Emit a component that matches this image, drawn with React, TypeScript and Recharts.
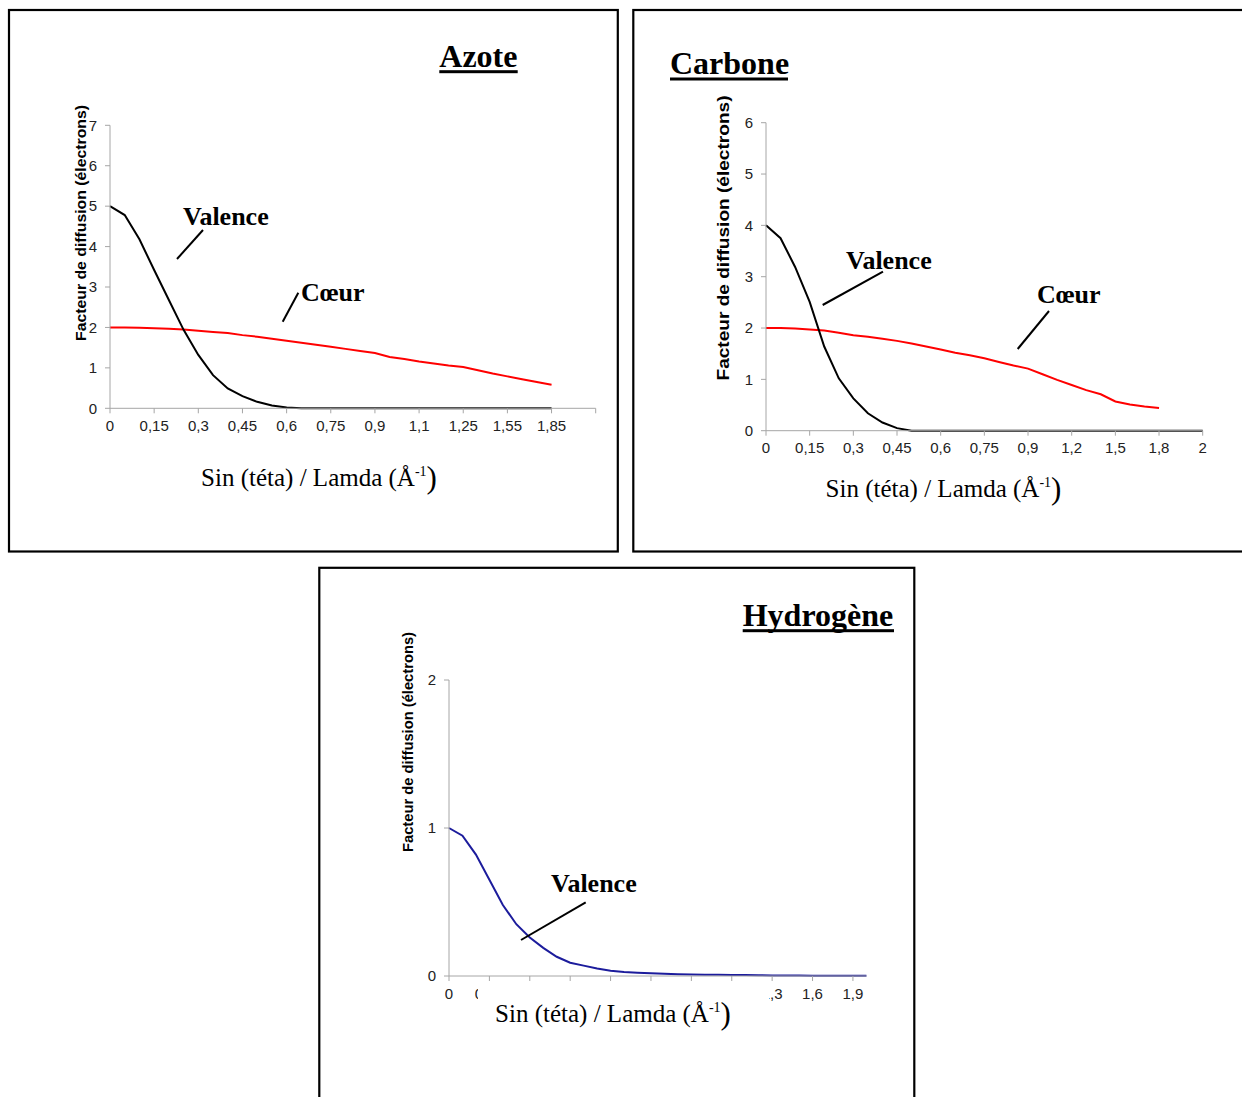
import { LineChart, Line, XAxis, YAxis } from 'recharts';

// sin(theta)/lambda categories (one point per category, labels every 3rd)
const AZOTE_X = [
  0, 0.05, 0.1, 0.15, 0.2, 0.25, 0.3, 0.35, 0.4, 0.45, 0.5, 0.55, 0.6, 0.65, 0.7, 0.75, 0.8, 0.85, 0.9,
  0.95, 1.0, 1.1, 1.15, 1.2, 1.25, 1.35, 1.45, 1.55, 1.65, 1.75, 1.85,
];
const AZOTE_VALENCE = [
  5.0, 4.78, 4.18, 3.42, 2.68, 1.94, 1.32, 0.82, 0.49, 0.3, 0.16, 0.07, 0.02, 0, 0, 0, 0, 0, 0,
  0, 0, 0, 0, 0, 0, 0, 0, 0, 0, 0, 0,
];
const AZOTE_COEUR = [
  2.0, 2.0, 1.99, 1.98, 1.97, 1.95, 1.92, 1.89, 1.86, 1.81, 1.77, 1.72, 1.67, 1.62, 1.57, 1.52, 1.47, 1.42, 1.37,
  1.27, 1.22, 1.16, 1.11, 1.06, 1.02, 0.94, 0.86, 0.79, 0.72, 0.65, 0.58,
];

const CARBONE_X = [
  0, 0.05, 0.1, 0.15, 0.2, 0.25, 0.3, 0.35, 0.4, 0.45, 0.5, 0.55, 0.6, 0.65, 0.7, 0.75, 0.8, 0.85, 0.9,
  1.0, 1.1, 1.2, 1.3, 1.4, 1.5, 1.6, 1.7, 1.8, 1.9, 1.95, 2,
];
const CARBONE_VALENCE = [
  4.0, 3.75, 3.19, 2.51, 1.64, 1.02, 0.63, 0.34, 0.16, 0.05, 0, 0, 0, 0, 0, 0, 0, 0, 0,
  0, 0, 0, 0, 0, 0, 0, 0, 0, 0, 0, 0,
];
const CARBONE_COEUR = [
  2.0, 2.0, 1.99, 1.97, 1.95, 1.91, 1.86, 1.83, 1.79, 1.75, 1.7, 1.64, 1.58, 1.52, 1.47, 1.41, 1.34, 1.27, 1.21,
  1.1, 0.99, 0.89, 0.79, 0.71, 0.57, 0.51, 0.47, 0.44,
];

const HYDROGENE_X = [
  0, 0.05, 0.1, 0.15, 0.2, 0.25, 0.3, 0.35, 0.4, 0.45, 0.5, 0.55, 0.6, 0.65, 0.7, 0.75, 0.8, 0.85, 0.9,
  0.95, 1.0, 1.05, 1.1, 1.2, 1.3, 1.4, 1.5, 1.6, 1.7, 1.8, 1.9, 2.0,
];
const HYDROGENE_VALENCE = [
  1.0, 0.948, 0.82, 0.65, 0.48, 0.35, 0.26, 0.19, 0.13, 0.09, 0.07, 0.05, 0.036, 0.027, 0.022, 0.018,
  0.015, 0.012, 0.01, 0.009, 0.008, 0.007, 0.006, 0.005, 0.004, 0.003, 0.003, 0.002, 0.002, 0.001, 0.001, 0.001,
];
// the axis title box hides these hydrogen tick labels in the original
const HYDROGENE_HIDDEN = [6, 9, 12, 15, 18, 21];

const Y_LABEL = 'Facteur de diffusion (électrons)';
const X_LABEL = 'Sin (téta) / Lamda (Å';

const SERIF = '"Liberation Serif", "Times New Roman", serif';
const SANS = '"Liberation Sans", Arial, sans-serif';
const AXIS = '#a6a6a6';

const fmt = (v: number) => String(v).replace('.', ',');

type Series = { key: string; values: number[]; color: string };

interface FactorChartProps {
  left: number;
  top: number;
  width: number;
  height: number;
  margin: { top: number; right: number; bottom: number; left: number };
  x: number[];
  xMax: number;
  yMax: number;
  series: Series[];
  hidden?: number[];
}

function FactorChart({ left, top, width, height, margin, x, xMax, yMax, series, hidden = [] }: FactorChartProps) {
  const rows = x.map((_, i) => {
    const row: Record<string, number | null> = { i };
    series.forEach((s) => {
      row[s.key] = i < s.values.length ? s.values[i] : null;
    });
    return row;
  });
  const xTicks: number[] = [];
  for (let t = 0; t <= xMax; t += 3) xTicks.push(t);
  const yTicks: number[] = [];
  for (let t = 0; t <= yMax; t++) yTicks.push(t);
  const tick = { fontSize: 15, fill: '#222', fontFamily: SANS };

  return (
    <div style={{ position: 'absolute', left, top }}>
      <LineChart width={width} height={height} data={rows} margin={margin}>
        <XAxis
          type="number"
          dataKey="i"
          domain={[0, xMax]}
          ticks={xTicks}
          interval={0}
          tickFormatter={(v: number) => (v < x.length && !hidden.includes(v) ? fmt(x[v]) : '')}
          tick={tick}
          tickSize={5}
          tickMargin={7}
          height={30}
          stroke={AXIS}
          tickLine={{ stroke: AXIS }}
        />
        <YAxis
          type="number"
          domain={[0, yMax]}
          ticks={yTicks}
          interval={0}
          tick={tick}
          tickSize={5}
          tickMargin={8}
          width={50}
          stroke={AXIS}
          tickLine={{ stroke: AXIS }}
        />
        {series.map((s) => (
          <Line
            key={s.key}
            type="linear"
            dataKey={s.key}
            stroke={s.color}
            strokeWidth={2}
            dot={false}
            isAnimationActive={false}
          />
        ))}
      </LineChart>
    </div>
  );
}

function XTitle({ x, y }: { x: number; y: number }) {
  return (
    <text x={x} y={y} fontFamily={SERIF} fontSize={25} fill="#000" textAnchor="middle">
      {X_LABEL}
      <tspan fontSize={14} dy={-10}>-1</tspan>
      <tspan fontSize={31} dy={12}>)</tspan>
    </text>
  );
}

function YTitle({ x, y, size, length }: { x: number; y: number; size: number; length: number }) {
  return (
    <text
      x={x}
      y={y}
      transform={`rotate(-90 ${x} ${y})`}
      fontFamily={SANS}
      fontWeight="bold"
      fontSize={size}
      fill="#000"
      textAnchor="middle"
      dominantBaseline="central"
      textLength={length}
      lengthAdjust="spacingAndGlyphs"
    >
      {Y_LABEL}
    </text>
  );
}

function Title({ x, y, w, text }: { x: number; y: number; w: number; text: string }) {
  return (
    <g>
      <text x={x} y={y} fontFamily={SERIF} fontWeight="bold" fontSize={32} fill="#000">
        {text}
      </text>
      <rect x={x} y={y + 3.5} width={w} height={3} fill="#000" />
    </g>
  );
}

function Note({ x, y, text, line }: { x: number; y: number; text: string; line: number[] }) {
  return (
    <g>
      <text x={x} y={y} fontFamily={SERIF} fontWeight="bold" fontSize={26} fill="#000">
        {text}
      </text>
      <line x1={line[0]} y1={line[1]} x2={line[2]} y2={line[3]} stroke="#000" strokeWidth={2} />
    </g>
  );
}

export default function App() {
  return (
    <div
      style={{
        position: 'absolute',
        left: 0,
        top: 0,
        width: 1242,
        height: 1097,
        overflow: 'hidden',
        background: '#fff',
      }}
    >
      <FactorChart
        left={60}
        top={115}
        width={550}
        height={330}
        margin={{ top: 10.3, right: 14.3, bottom: 6.7, left: 0 }}
        x={AZOTE_X}
        xMax={33}
        yMax={7}
        series={[
          { key: 'coeur', values: AZOTE_COEUR, color: '#ff0000' },
          { key: 'valence', values: AZOTE_VALENCE, color: '#000000' },
        ]}
      />
      <FactorChart
        left={716}
        top={112}
        width={500}
        height={350}
        margin={{ top: 10.7, right: 13.3, bottom: 1.3, left: 0 }}
        x={CARBONE_X}
        xMax={30}
        yMax={6}
        series={[
          { key: 'coeur', values: CARBONE_COEUR, color: '#ff0000' },
          { key: 'valence', values: CARBONE_VALENCE, color: '#000000' },
        ]}
      />
      <FactorChart
        left={399.3}
        top={670}
        width={480}
        height={340}
        margin={{ top: 10, right: 12.6, bottom: 4, left: 0 }}
        x={HYDROGENE_X}
        xMax={31}
        yMax={2}
        hidden={HYDROGENE_HIDDEN}
        series={[{ key: 'valence', values: HYDROGENE_VALENCE, color: '#1c1c9c' }]}
      />

      <svg
        width={1242}
        height={1097}
        style={{ position: 'absolute', left: 0, top: 0, pointerEvents: 'none' }}
      >
        <g fill="none" stroke="#000" strokeWidth={2.2}>
          <rect x={9} y={10} width={608.8} height={541.5} />
          <rect x={633.3} y={10} width={640} height={541.5} />
          <rect x={319.3} y={567.8} width={595} height={560} />
        </g>

        <Title x={439.3} y={66.7} w={78.4} text="Azote" />
        <Title x={670} y={74} w={118} text="Carbone" />
        <Title x={742.7} y={625.7} w={151.3} text="Hydrogène" />

        <YTitle x={81} y={223} size={14} length={236} />
        <YTitle x={723.5} y={238} size={17} length={285} />
        <YTitle x={408} y={742} size={14} length={220} />

        <Note x={183} y={225} text="Valence" line={[203, 230, 177, 259]} />
        <Note x={301} y={301} text="Cœur" line={[298.3, 292.7, 282.7, 321.7]} />
        <Note x={846} y={269} text="Valence" line={[883, 271.7, 822.7, 305]} />
        <Note x={1037} y={302.7} text="Cœur" line={[1049, 311, 1017.7, 349]} />
        <Note x={551} y={891.7} text="Valence" line={[585.7, 902.3, 521, 940]} />

        <XTitle x={319} y={485.7} />
        <XTitle x={943.5} y={496.5} />
        <rect x={478} y={983} width={291} height={50} fill="#fff" />
        <XTitle x={613} y={1021.7} />
      </svg>
    </div>
  );
}
